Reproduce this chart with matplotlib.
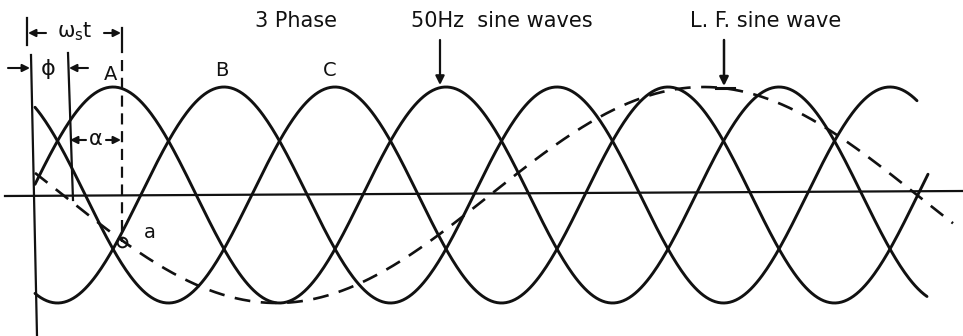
import numpy as np
import matplotlib.pyplot as plt

# diagram is laid out in pixel units of the 963x336 picture
phase_names = ['A', 'B', 'C']
phase_peaks = [113, 224, 335]        # x of first peak of each 50Hz phase
phase_start = [35, 35, 35]
phase_end = [927, 917, 928]
period_50 = 333
amplitude = 108
baseline = 195

lf_rising_zero = 490                 # L.F. wave goes up through the axis here
lf_period = 854
lf_start, lf_end = 35, 953

label_pos = [(111, 75), (222, 70), (330, 70)]
titles = ['3 Phase', '50Hz  sine waves', 'L. F. sine wave']
title_x = [296, 502, 766]

ink = '#111111'

fig = plt.figure(figsize=(9.63, 3.36), dpi=100)
ax = fig.add_axes([0, 0, 1, 1])
ax.set_xlim(0, 963)
ax.set_ylim(336, 0)
ax.axis('off')

# time axis and the two vertical reference lines
ax.plot([5, 963], [196, 191], color=ink, lw=1.6)
ax.plot([31, 37], [55, 336], color=ink, lw=1.6)
ax.plot([68, 73], [53, 200], color=ink, lw=1.6)

# three phase 50Hz waves
for name, peak, x0, x1 in zip(phase_names, phase_peaks, phase_start, phase_end):
    x = np.linspace(x0, x1, 600)
    y = baseline - amplitude * np.cos(2 * np.pi * (x - peak) / period_50)
    ax.plot(x, y, color=ink, lw=2.1, solid_capstyle='round')

# low frequency wave (dashed)
xl = np.linspace(lf_start, lf_end, 800)
yl = baseline - amplitude * np.sin(2 * np.pi * (xl - lf_rising_zero) / lf_period)
ax.plot(xl, yl, color=ink, lw=1.9, dashes=(6, 4))

# point a and the dashed line up to the wst bracket
a_x, a_y = 122, 242
ax.plot([a_x, a_x], [28, 52], color=ink, lw=1.6)
ax.plot([a_x, a_x], [60, a_y], color=ink, lw=1.6, dashes=(5, 3))
ax.plot([a_x], [a_y], marker='o', ms=7, mfc='none', mec=ink, mew=1.4)
ax.text(150, 232, 'a', fontsize=14, color=ink, ha='center', va='center')

# w_s t bracket
ax.plot([27, 27], [18, 45], color=ink, lw=1.6)
arrow = dict(arrowstyle='-|>', color=ink, lw=1.5, mutation_scale=11,
             shrinkA=0, shrinkB=0)
ax.annotate('', xy=(28, 33), xytext=(46, 33), arrowprops=arrow)
ax.annotate('', xy=(121, 33), xytext=(104, 33), arrowprops=arrow)
ax.text(75, 32, r'$\mathregular{\omega_{s}t}$', fontsize=15, color=ink,
        ha='center', va='center')

# phi
ax.annotate('', xy=(30, 68), xytext=(8, 68), arrowprops=arrow)
ax.annotate('', xy=(69, 68), xytext=(88, 68), arrowprops=arrow)
ax.text(48, 69, 'ϕ', fontsize=16, color=ink, ha='center', va='center')

# alpha
ax.annotate('', xy=(70, 140), xytext=(86, 140), arrowprops=arrow)
ax.annotate('', xy=(121, 140), xytext=(106, 140), arrowprops=arrow)
ax.text(96, 139, 'α', fontsize=15, color=ink, ha='center', va='center')

# phase labels
for name, (lx, ly) in zip(phase_names, label_pos):
    ax.text(lx, ly, name, fontsize=14, color=ink, ha='center', va='center')

# titles
for t, tx in zip(titles, title_x):
    ax.text(tx, 21, t, fontsize=15, color=ink, ha='center', va='center')

# pointer arrows
ax.annotate('', xy=(440, 85), xytext=(440, 40),
            arrowprops=dict(arrowstyle='-|>', color=ink, lw=1.6,
                            mutation_scale=13, shrinkA=0, shrinkB=0))
ax.annotate('', xy=(724, 86), xytext=(724, 40),
            arrowprops=dict(arrowstyle='-|>', color=ink, lw=1.8,
                            mutation_scale=13, shrinkA=0, shrinkB=0))
ax.plot([716, 734], [88, 88], color=ink, lw=2.2)

fig.savefig('out.png', dpi=100)
